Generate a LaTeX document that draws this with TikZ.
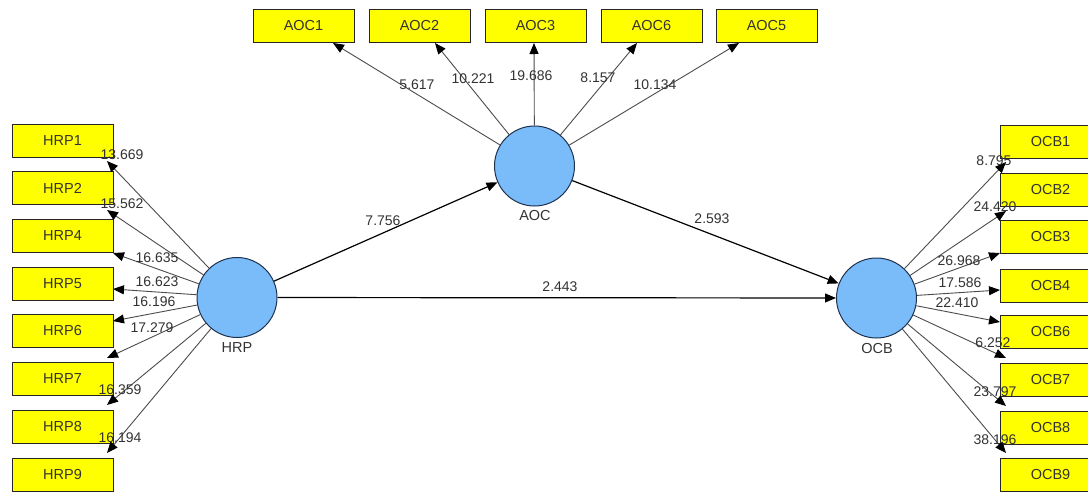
\documentclass[tikz,border=0pt]{standalone}
\usepackage{fontspec}
\setmainfont{Liberation Sans}
\usetikzlibrary{arrows.meta}
\definecolor{latblue}{RGB}{122,188,250}
\definecolor{latedge}{RGB}{30,50,80}
\definecolor{boxyellow}{RGB}{255,255,0}
\begin{document}
\begin{tikzpicture}[x=1pt,y=-1pt,
  ind/.style={draw=black!85, fill=boxyellow, minimum width=101pt, minimum height=33pt, inner sep=0pt, line width=0.9pt, font=\fontsize{14.5}{16}\selectfont, text=black!80},
  lat/.style={circle, draw=latedge, fill=latblue, minimum size=80pt, inner sep=0pt, line width=1pt},
  meas/.style={-{Triangle[length=11pt,width=9pt,black]}, draw=black!70, line width=0.9pt},
  strc/.style={-{Triangle[length=11pt,width=9pt,black]}, draw=black, line width=1.2pt},
  num/.style={font=\fontsize{14}{16}\selectfont, text=black!80, inner sep=0pt},
  lbl/.style={font=\fontsize{14.5}{16}\selectfont, text=black!80, inner sep=0pt}]
\useasboundingbox[fill=white] (0,0) rectangle (1088,491);

% latent variables
\node[lat] (hrp) at (237,297.5) {};
\node[lbl] (hrpl) at (237,348) {HRP};
\node[lat] (aoc) at (534.5,166) {};
\node[lbl] (aocl) at (535,216) {AOC};
\node[lat] (ocb) at (876.5,298) {};
\node[lbl] (ocbl) at (877,349) {OCB};

% AOC indicators
\node[ind] (aoc1) at (303.5,26) {AOC1};
\node[ind] (aoc2) at (419.5,26) {AOC2};
\node[ind] (aoc3) at (535.5,26) {AOC3};
\node[ind] (aoc6) at (651.5,26) {AOC6};
\node[ind] (aoc5) at (766.5,26) {AOC5};

% HRP indicators
\node[ind] (hrp1) at (62.5,140.5) {HRP1};
\node[ind] (hrp2) at (62.5,188) {HRP2};
\node[ind] (hrp4) at (62.5,235.5) {HRP4};
\node[ind] (hrp5) at (62.5,283.5) {HRP5};
\node[ind] (hrp6) at (62.5,331) {HRP6};
\node[ind] (hrp7) at (62.5,378.5) {HRP7};
\node[ind] (hrp8) at (62.5,426.5) {HRP8};
\node[ind] (hrp9) at (62.5,474.5) {HRP9};

% OCB indicators
\node[ind] (ocb1) at (1050.5,141.5) {OCB1};
\node[ind] (ocb2) at (1050.5,189.5) {OCB2};
\node[ind] (ocb3) at (1050.5,237) {OCB3};
\node[ind] (ocb4) at (1050.5,285.5) {OCB4};
\node[ind] (ocb6) at (1050.5,332) {OCB6};
\node[ind] (ocb7) at (1050.5,379.5) {OCB7};
\node[ind] (ocb8) at (1050.5,427.5) {OCB8};
\node[ind] (ocb9) at (1050.5,475) {OCB9};

% arrow end points at the indicators
\coordinate (ta1) at (333,43);
\coordinate (ta2) at (435,43);
\coordinate (ta3) at (534,43);
\coordinate (ta6) at (637,43);
\coordinate (ta5) at (739,43);

\coordinate (th1) at (107,161);
\coordinate (th2) at (107,210);
\coordinate (th4) at (113,253);
\coordinate (th5) at (113,289);
\coordinate (th6) at (113,321);
\coordinate (th7) at (107,358);
\coordinate (th8) at (107,405);
\coordinate (th9) at (107,453);

\coordinate (to1) at (1006,162);
\coordinate (to2) at (1006,211);
\coordinate (to3) at (1000,253);
\coordinate (to4) at (1000,290);
\coordinate (to6) at (1000,322);
\coordinate (to7) at (1006,358);
\coordinate (to8) at (1006,406);
\coordinate (to9) at (1006,453);

% measurement arrows
\foreach \t in {ta1,ta2,ta3,ta6,ta5} \draw[meas] (aoc) -- (\t);
\foreach \t in {th1,th2,th4,th5,th6,th7,th8,th9} \draw[meas] (hrp) -- (\t);
\foreach \t in {to1,to2,to3,to4,to6,to7,to8,to9} \draw[meas] (ocb) -- (\t);

% structural arrows
\draw[strc] (hrp) -- (aoc);
\draw[strc] (aoc) -- (ocb);
\draw[strc] (hrp) -- (ocb);

% path coefficients
\node[num] (n1) at (383,221) {7.756};
\node[num] (n2) at (712,219) {2.593};
\node[num] (n3) at (560,287) {2.443};

% AOC loadings
\node[num] (na1) at (417,85) {5.617};
\node[num] (na2) at (473,79) {10.221};
\node[num] (na3) at (531,76) {19.686};
\node[num] (na6) at (598,78) {8.157};
\node[num] (na5) at (655,85) {10.134};

% HRP loadings
\node[num] (nh1) at (122,155) {13.669};
\node[num] (nh2) at (122,204) {15.562};
\node[num] (nh4) at (157,258) {16.635};
\node[num] (nh5) at (157,282) {16.623};
\node[num] (nh6) at (154,302) {16.196};
\node[num] (nh7) at (152,328) {17.279};
\node[num] (nh8) at (120,390) {16.359};
\node[num] (nh9) at (120,438) {16.194};

% OCB loadings
\node[num] (no1) at (994,161) {8.795};
\node[num] (no2) at (995,207) {24.420};
\node[num] (no3) at (959,261) {26.968};
\node[num] (no4) at (960,283) {17.586};
\node[num] (no6) at (957,303) {22.410};
\node[num] (no7) at (993,343) {6.252};
\node[num] (no8) at (995,392) {23.797};
\node[num] (no9) at (995,440) {38.196};
\end{tikzpicture}
\end{document}
